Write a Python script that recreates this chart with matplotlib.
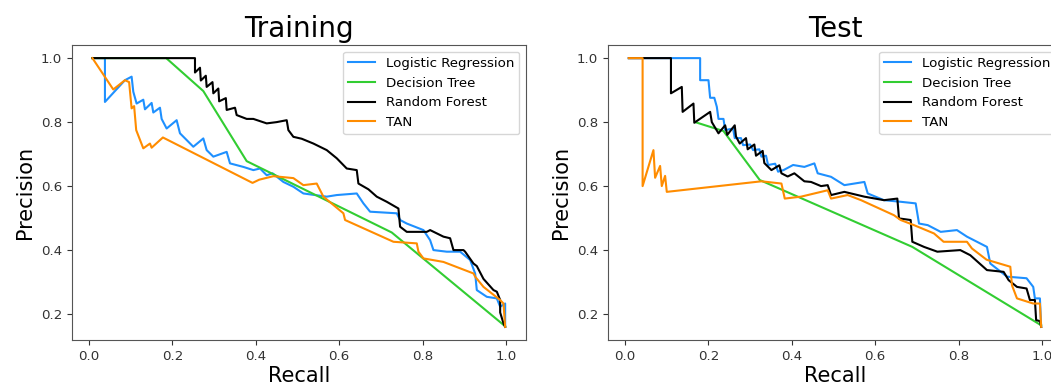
import matplotlib
matplotlib.use("Agg")
import matplotlib.pyplot as plt

series_names = ["Logistic Regression", "Decision Tree", "Random Forest", "TAN"]
series_colors = ["dodgerblue", "limegreen", "black", "darkorange"]

# ---------------- Training ----------------
train_lr_recall = [0.008, 0.038, 0.038, 0.086, 0.102, 0.106, 0.114, 0.13, 0.134, 0.15, 0.154, 0.17, 0.174,
                   0.186, 0.21, 0.218, 0.25, 0.274, 0.282, 0.298, 0.33, 0.338, 0.37, 0.394, 0.41, 0.426,
                   0.44, 0.466, 0.49, 0.514, 0.57, 0.594, 0.642, 0.658, 0.674, 0.738, 0.746, 0.762, 0.802,
                   0.818, 0.826, 0.858, 0.89, 0.914, 0.926, 0.93, 0.954, 0.978, 0.986, 0.998, 0.998]
train_lr_precision = [1.0, 1.0, 0.863, 0.931, 0.942, 0.895, 0.858, 0.87, 0.84, 0.86, 0.83, 0.845, 0.81,
                      0.78, 0.806, 0.765, 0.723, 0.749, 0.7125, 0.692, 0.707, 0.671, 0.66, 0.65, 0.655, 0.634,
                      0.64, 0.613, 0.598, 0.577, 0.567, 0.572, 0.577, 0.546, 0.52, 0.515, 0.494, 0.483, 0.4625,
                      0.431, 0.40, 0.395, 0.395, 0.369, 0.327, 0.275, 0.254, 0.249, 0.223, 0.233, 0.16]

train_dt_recall = [0.008, 0.185, 0.274, 0.378, 0.726, 0.998]
train_dt_precision = [1.0, 1.0, 0.897, 0.678, 0.455, 0.162]

train_rf_recall = [0.008, 0.254, 0.254, 0.266, 0.268, 0.28, 0.282, 0.296, 0.298, 0.31, 0.312, 0.328, 0.33,
                   0.35, 0.354, 0.378, 0.394, 0.426, 0.45, 0.474, 0.478, 0.49, 0.51, 0.538, 0.57, 0.594,
                   0.618, 0.642, 0.646, 0.67, 0.69, 0.714, 0.742, 0.746, 0.762, 0.81, 0.818, 0.85, 0.866,
                   0.874, 0.898, 0.902, 0.922, 0.93, 0.946, 0.97, 0.978, 0.986, 0.986, 0.994, 0.998]
train_rf_precision = [1.0, 1.0, 0.955, 0.97, 0.93, 0.945, 0.91, 0.925, 0.89, 0.905, 0.865, 0.875, 0.838,
                      0.845, 0.822, 0.81, 0.81, 0.796, 0.80, 0.806, 0.775, 0.754, 0.748, 0.733, 0.7125, 0.687,
                      0.655, 0.65, 0.608, 0.59, 0.567, 0.551, 0.53, 0.473, 0.457, 0.457, 0.4625, 0.442, 0.437,
                      0.40, 0.40, 0.395, 0.358, 0.35, 0.31, 0.275, 0.27, 0.244, 0.205, 0.171, 0.16]

train_tan_recall = [0.008, 0.058, 0.086, 0.096, 0.102, 0.108, 0.113, 0.13, 0.146, 0.15, 0.177, 0.392, 0.408,
                    0.442, 0.49, 0.514, 0.546, 0.562, 0.61, 0.614, 0.73, 0.786, 0.79, 0.802, 0.85, 0.922,
                    0.926, 0.946, 0.986, 0.994, 0.998]
train_tan_precision = [1.0, 0.902, 0.931, 0.925, 0.843, 0.85, 0.775, 0.718, 0.733, 0.72, 0.752, 0.61, 0.62,
                       0.631, 0.625, 0.603, 0.608, 0.567, 0.515, 0.494, 0.426, 0.421, 0.395, 0.374, 0.363, 0.327,
                       0.317, 0.285, 0.244, 0.233, 0.16]

# ---------------- Test ----------------
test_lr_recall = [0.009, 0.18, 0.18, 0.2, 0.204, 0.214, 0.22, 0.224, 0.236, 0.24, 0.259, 0.263, 0.278, 0.283,
                  0.3, 0.307, 0.322, 0.327, 0.338, 0.343, 0.36, 0.367, 0.38, 0.403, 0.43, 0.454, 0.462, 0.494,
                  0.526, 0.574, 0.582, 0.621, 0.661, 0.697, 0.705, 0.726, 0.757, 0.796, 0.82, 0.868, 0.876,
                  0.916, 0.963, 0.979, 0.983, 0.995, 0.998]
test_lr_precision = [1.0, 1.0, 0.931, 0.931, 0.876, 0.876, 0.848, 0.81, 0.81, 0.775, 0.78, 0.75, 0.75, 0.728,
                     0.73, 0.7125, 0.715, 0.692, 0.695, 0.666, 0.67, 0.645, 0.65, 0.666, 0.66, 0.671, 0.64, 0.629,
                     0.603, 0.613, 0.577, 0.556, 0.551, 0.546, 0.483, 0.478, 0.457, 0.4625, 0.442, 0.41, 0.358,
                     0.317, 0.312, 0.285, 0.249, 0.249, 0.16]

test_dt_recall = [0.168, 0.236, 0.323, 0.689, 0.998]
test_dt_precision = [0.80, 0.772, 0.619, 0.41, 0.165]

test_rf_recall = [0.009, 0.11, 0.11, 0.136, 0.138, 0.164, 0.166, 0.204, 0.208, 0.224, 0.24, 0.245, 0.263,
                  0.266, 0.275, 0.29, 0.294, 0.31, 0.314, 0.33, 0.334, 0.351, 0.37, 0.375, 0.39, 0.406, 0.43,
                  0.446, 0.47, 0.486, 0.494, 0.526, 0.574, 0.621, 0.653, 0.657, 0.685, 0.689, 0.717, 0.749,
                  0.804, 0.828, 0.868, 0.908, 0.92, 0.94, 0.963, 0.971, 0.983, 0.986, 0.995, 0.998]
test_rf_precision = [1.0, 1.0, 0.89, 0.91, 0.832, 0.858, 0.798, 0.832, 0.80, 0.765, 0.79, 0.76, 0.79,
                     0.755, 0.733, 0.75, 0.715, 0.73, 0.695, 0.71, 0.672, 0.65, 0.665, 0.64, 0.63, 0.64, 0.615,
                     0.613, 0.6, 0.603, 0.572, 0.582, 0.567, 0.556, 0.561, 0.499, 0.494, 0.426, 0.41, 0.395,
                     0.40, 0.384, 0.3375, 0.332, 0.306, 0.285, 0.28, 0.244, 0.244, 0.181, 0.178, 0.16]

test_tan_recall = [0.009, 0.042, 0.042, 0.068, 0.072, 0.084, 0.088, 0.096, 0.10, 0.327, 0.375, 0.383, 0.422,
                   0.486, 0.494, 0.534, 0.566, 0.645, 0.661, 0.693, 0.741, 0.764, 0.82, 0.832, 0.867, 0.924,
                   0.928, 0.94, 0.979, 0.995, 0.998]
test_tan_precision = [1.0, 1.0, 0.60, 0.7125, 0.626, 0.663, 0.60, 0.632, 0.582, 0.615, 0.608, 0.561, 0.567,
                      0.587, 0.561, 0.572, 0.556, 0.509, 0.494, 0.478, 0.452, 0.426, 0.426, 0.405, 0.37, 0.348,
                      0.29, 0.249, 0.233, 0.233, 0.16]

panel_titles = ["Training", "Test"]
x_label = "Recall"
y_label = "Precision"
x_ticks = [0.0, 0.2, 0.4, 0.6, 0.8, 1.0]
y_ticks = [0.2, 0.4, 0.6, 0.8, 1.0]

train_curves = [(train_lr_recall, train_lr_precision), (train_dt_recall, train_dt_precision),
                (train_rf_recall, train_rf_precision), (train_tan_recall, train_tan_precision)]
test_curves = [(test_lr_recall, test_lr_precision), (test_dt_recall, test_dt_precision),
               (test_rf_recall, test_rf_precision), (test_tan_recall, test_tan_precision)]

W, H = 1051, 390
fig = plt.figure(figsize=(W / 100, H / 100), dpi=100)
ax_left = fig.add_axes([72 / W, (H - 340) / H, 454 / W, 295 / H])
ax_right = fig.add_axes([608 / W, (H - 340) / H, 454 / W, 295 / H])

for ax, curves, title in [(ax_left, train_curves, panel_titles[0]), (ax_right, test_curves, panel_titles[1])]:
    for (rx, py), name, col in zip(curves, series_names, series_colors):
        ax.plot(rx, py, color=col, lw=1.5, label=name)
    ax.set_xlim(-0.041, 1.048)
    ax.set_ylim(0.119, 1.041)
    ax.set_xticks(x_ticks)
    ax.set_yticks(y_ticks)
    ax.set_xticklabels([f"{t:.1f}" for t in x_ticks])
    ax.set_yticklabels([f"{t:.1f}" for t in y_ticks])
    ax.tick_params(labelsize=9.6, colors="#333333")
    for sp in ax.spines.values():
        sp.set_color("#555555")
    ax.set_title(title, fontsize=20)
    ax.set_xlabel(x_label, fontsize=15, labelpad=2)
    ax.set_ylabel(y_label, fontsize=15)
    ax.legend(loc="upper right", fontsize=9.6)

fig.savefig("out.png", dpi=100)
